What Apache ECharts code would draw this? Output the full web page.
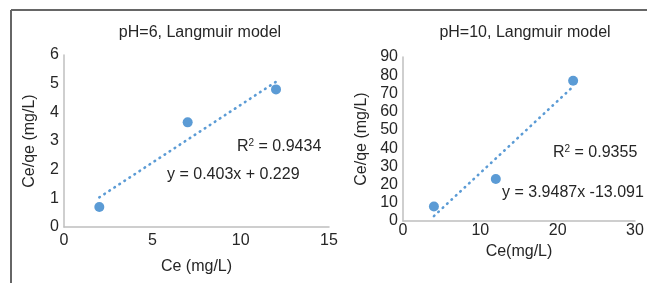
<!DOCTYPE html>
<html>
<head>
<meta charset="utf-8">
<script src="https://cdn.jsdelivr.net/npm/echarts@6/dist/echarts.min.js"></script>
<style>
  html, body { margin: 0; padding: 0; background: #fff; }
  #chart { width: 647px; height: 283px; }
</style>
</head>
<body>
<div id="chart"></div>
<script>
// pH=6 panel
var ce6 = [2, 7, 12];
var ceqe6 = [0.7, 3.65, 4.8];
var trendX6 = [2, 12];
var trendY6 = [1.035, 5.065];
var r2Text6 = '0.9434';
var eqText6 = 'y = 0.403x + 0.229';

// pH=10 panel
var ce10 = [4, 12, 22];
var ceqe10 = [8, 23, 77];
var trendX10 = [4, 22];
var trendY10 = [2.7, 73.8];
var r2Text10 = '0.9355';
var eqText10 = 'y = 3.9487x -13.091';

var font = 'Liberation Sans, Arial, sans-serif';
var txt = '#262626';
var blue = '#5b9bd5';
var axisGray = '#bfbfbf';
var fs = 16;

function pairs(xs, ys) {
    return xs.map(function (x, i) { return [x, ys[i]]; });
}

function xAx(idx, max, step, name, gap, margin) {
    return {
        gridIndex: idx, type: 'value', min: 0, max: max, interval: step,
        name: name, nameLocation: 'middle', nameGap: gap,
        nameTextStyle: { color: txt, fontSize: fs, fontFamily: font },
        axisLine: { lineStyle: { color: axisGray, width: 1.5 } },
        axisTick: { show: false },
        splitLine: { show: false },
        axisLabel: { color: txt, fontSize: fs, fontFamily: font, margin: margin }
    };
}

function yAx(idx, max, step, name, gap) {
    return {
        gridIndex: idx, type: 'value', min: 0, max: max, interval: step,
        name: name, nameLocation: 'middle', nameGap: gap,
        nameTextStyle: { color: txt, fontSize: fs, fontFamily: font },
        axisLine: { show: true, lineStyle: { color: axisGray, width: 1.5 } },
        axisTick: { show: false },
        splitLine: { show: false },
        axisLabel: { color: txt, fontSize: fs, fontFamily: font, margin: 5 }
    };
}

function trend(idx, xs, ys) {
    return {
        type: 'line', xAxisIndex: idx, yAxisIndex: idx,
        data: pairs(xs, ys), symbol: 'none', silent: true,
        lineStyle: { color: blue, width: 2.6, type: [0.6, 5.4], cap: 'round' },
        z: 1
    };
}

function dots(idx, xs, ys) {
    return {
        type: 'scatter', xAxisIndex: idx, yAxisIndex: idx,
        data: pairs(xs, ys), symbolSize: 10,
        itemStyle: { color: blue, opacity: 1 },
        z: 2
    };
}

function note(x, y, r2) {
    return {
        type: 'text', left: x, top: y,
        style: {
            text: 'R{sup|2} = ' + r2,
            fill: txt, font: fs + 'px ' + font,
            rich: { sup: { fontSize: 10, verticalAlign: 'top', padding: [0, 0, 7, 0], fill: txt } }
        }
    };
}

var chart = echarts.init(document.getElementById('chart'));
chart.setOption({
    animation: false,
    title: [
        { text: 'pH=6, Langmuir model', left: 195, top: 20, textAlign: 'center',
          textStyle: { color: txt, fontSize: fs, fontWeight: 'normal', fontFamily: font } },
        { text: 'pH=10, Langmuir model', left: 520, top: 20, textAlign: 'center',
          textStyle: { color: txt, fontSize: fs, fontWeight: 'normal', fontFamily: font } }
    ],
    grid: [
        { left: 64, top: 55, width: 265, height: 172 },
        { left: 403, top: 57, width: 232, height: 164 }
    ],
    xAxis: [
        xAx(0, 15, 5, 'Ce (mg/L)', 32, 6),
        xAx(1, 30, 10, 'Ce(mg/L)', 19, 2)
    ],
    yAxis: [
        yAx(0, 6, 1, 'Ce/qe (mg/L)', 26),
        yAx(1, 90, 10, 'Ce/qe (mg/L)', 33)
    ],
    series: [
        trend(0, trendX6, trendY6),
        dots(0, ce6, ceqe6),
        trend(1, trendX10, trendY10),
        dots(1, ce10, ceqe10)
    ],
    graphic: [
        { type: 'line', shape: { x1: 11, y1: 10, x2: 647, y2: 10 }, style: { stroke: '#666', lineWidth: 2 } },
        { type: 'line', shape: { x1: 11, y1: 10, x2: 11, y2: 283 }, style: { stroke: '#666', lineWidth: 2 } },
        note(237, 138, r2Text6),
        { type: 'text', left: 167, top: 167, style: { text: eqText6, fill: txt, font: fs + 'px ' + font } },
        note(553, 144, r2Text10),
        { type: 'text', left: 502, top: 185, style: { text: eqText10, fill: txt, font: fs + 'px ' + font } }
    ]
});
</script>
</body>
</html>
